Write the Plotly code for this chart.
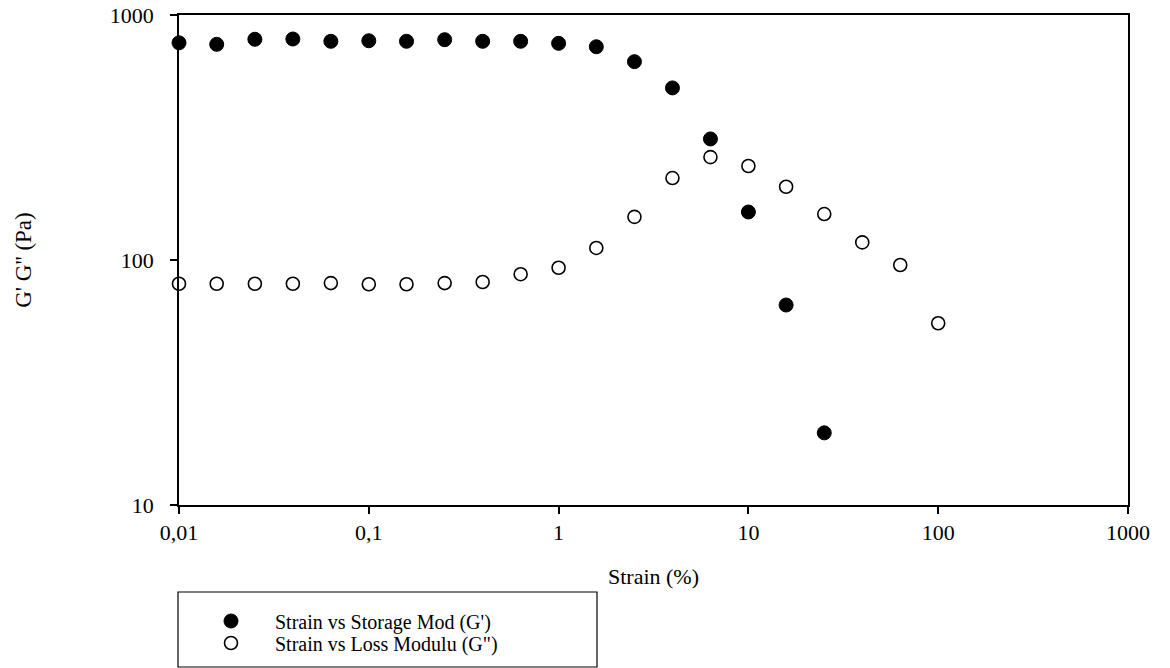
import plotly.graph_objects as go

# Strain sweep (%), 0.2-decade steps
strain_storage = [0.01, 0.0158, 0.0251, 0.0398, 0.0631, 0.1, 0.158, 0.251, 0.398,
                  0.631, 1.0, 1.58, 2.51, 3.98, 6.31, 10.0, 15.8, 25.1]
storage_modulus = [770, 759, 796, 798, 781, 785, 781, 793, 781,
                   781, 766, 742, 645, 504, 312, 157, 65.5, 19.7]

strain_loss = [0.01, 0.0158, 0.0251, 0.0398, 0.0631, 0.1, 0.158, 0.251, 0.398,
               0.631, 1.0, 1.58, 2.51, 3.98, 6.31, 10.0, 15.8, 25.1, 39.8, 63.1, 100.0]
loss_modulus = [80.0, 80.0, 80.0, 80.0, 80.5, 79.6, 79.6, 80.5, 81.3,
                87.5, 93.0, 112, 150, 216, 263, 242, 199, 154, 118, 95.4, 55.2]

x_tick_vals = [0.01, 0.1, 1, 10, 100, 1000]
x_tick_text = ["0,01", "0,1", "1", "10", "100", "1000"]
y_tick_vals = [10, 100, 1000]
y_tick_text = ["10", "100", "1000"]

FONT = "Liberation Serif"
FS = 22
W, H = 1170, 668
L, R, T, B = 179, 42, 15, 163
pw, ph = W - L - R, H - T - B


def px_to_paper_x(px):
    return (px - L) / pw


def px_to_paper_y(py):
    return (H - B - py) / ph


fig = go.Figure()
fig.add_trace(go.Scatter(
    x=strain_storage, y=storage_modulus, mode="markers",
    name="Strain vs Storage Mod (G')", legend="legend",
    marker=dict(symbol="circle", size=14, color="black",
                line=dict(color="black", width=1)),
    cliponaxis=False,
))
fig.add_trace(go.Scatter(
    x=strain_loss, y=loss_modulus, mode="markers",
    name='Strain vs Loss Modulu (G")', legend="legend2",
    marker=dict(symbol="circle", size=13, color="white",
                line=dict(color="black", width=1.6)),
    cliponaxis=False,
))

axis_common = dict(
    type="log", showgrid=False, zeroline=False,
    showline=True, linecolor="black", linewidth=1.5, mirror=True,
    ticks="outside", ticklen=7, tickwidth=1.5, tickcolor="black",
    tickfont=dict(family=FONT, size=FS, color="black"),
)

fig.update_xaxes(
    **axis_common, range=[-2, 3],
    tickvals=x_tick_vals, ticktext=x_tick_text,
    title=dict(text="Strain (%)", font=dict(family=FONT, size=FS, color="black"),
               standoff=24),
)
fig.update_yaxes(
    **axis_common, range=[1, 3],
    tickvals=y_tick_vals, ticktext=y_tick_text, ticklabelstandoff=12,
    title=dict(text="G' G'' (Pa)", font=dict(family=FONT, size=23, color="black"),
               standoff=72),
)

# Framed legend box under the plot
fig.add_shape(
    type="rect", xref="paper", yref="paper",
    x0=px_to_paper_x(178), x1=px_to_paper_x(597),
    y0=px_to_paper_y(667), y1=px_to_paper_y(592),
    line=dict(color="black", width=1.2), fillcolor="rgba(0,0,0,0)",
)

legend_common = dict(
    xanchor="left", yanchor="middle",
    bgcolor="rgba(0,0,0,0)", borderwidth=0,
    font=dict(family=FONT, size=20, color="black"),
    itemwidth=78,
)

fig.update_layout(
    width=W, height=H,
    margin=dict(l=L, r=R, t=T, b=B, autoexpand=False),
    paper_bgcolor="white", plot_bgcolor="white",
    font=dict(family=FONT, color="black"),
    showlegend=True,
    legend=dict(x=px_to_paper_x(187), y=px_to_paper_y(621), **legend_common),
    legend2=dict(x=px_to_paper_x(187), y=px_to_paper_y(643), **legend_common),
)

fig.write_html("out.html")
